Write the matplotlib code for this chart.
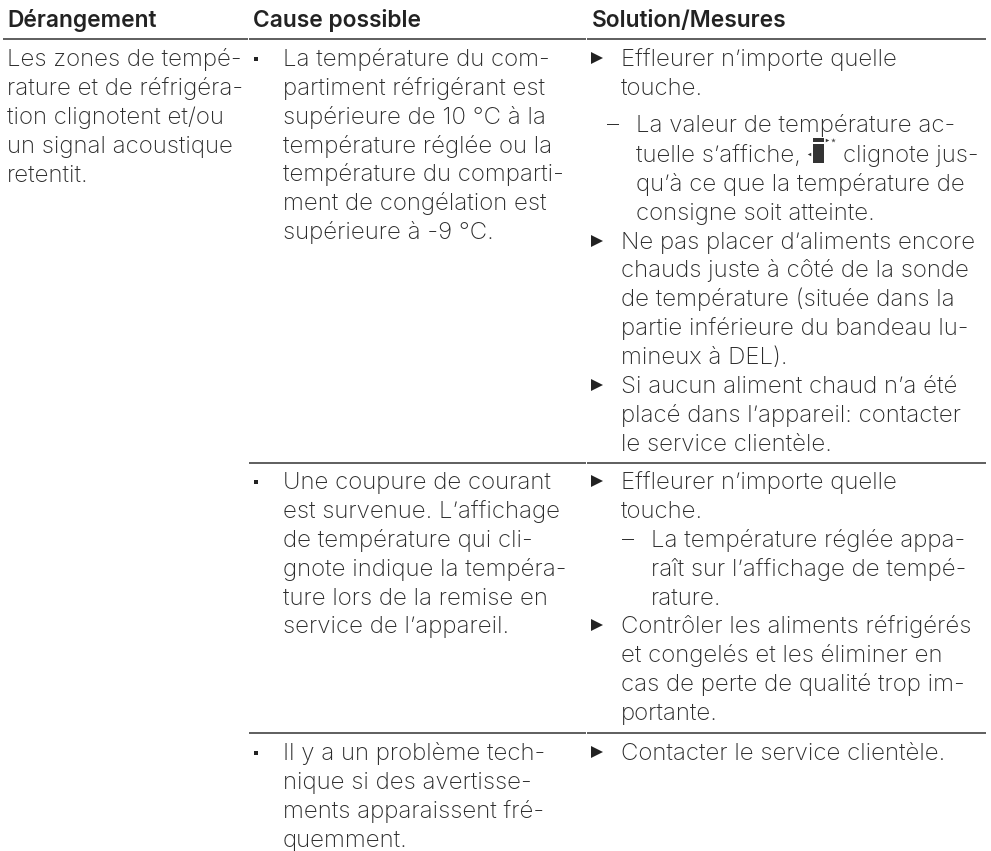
import matplotlib
matplotlib.use("Agg")
import matplotlib.pyplot as plt

headers = ["Dérangement", "Cause possible", "Solution/Mesures"]
symptom = ["Les zones de tempé-", "rature et de réfrigéra-", "tion clignotent et/ou",
           "un signal acoustique", "retentit."]
cause_1 = ["La température du com-", "partiment réfrigérant est", "supérieure de 10 °C à la",
           "température réglée ou la", "température du comparti-", "ment de congélation est",
           "supérieure à -9 °C."]
cause_2 = ["Une coupure de courant", "est survenue. L’affichage", "de température qui cli-",
           "gnote indique la tempéra-", "ture lors de la remise en", "service de l’appareil."]
cause_3 = ["Il y a un problème tech-", "nique si des avertisse-", "ments apparaissent fré-",
           "quemment."]
sol_1a = ["Effleurer n’importe quelle", "touche."]
sol_1b_first = ["La valeur de température ac-"]
sol_1b_icon = ["tuelle s’affiche,", "clignote jus-"]
sol_1b_rest = ["qu’à ce que la température de", "consigne soit atteinte."]
sol_1c = ["Ne pas placer d’aliments encore", "chauds juste à côté de la sonde",
          "de température (située dans la", "partie inférieure du bandeau lu-",
          "mineux à DEL)."]
sol_1d = ["Si aucun aliment chaud n’a été", "placé dans l’appareil: contacter",
          "le service clientèle."]
sol_2a = ["Effleurer n’importe quelle", "touche."]
sol_2b = ["La température réglée appa-", "raît sur l’affichage de tempé-", "rature."]
sol_2c = ["Contrôler les aliments réfrigérés", "et congelés et les éliminer en",
          "cas de perte de qualité trop im-", "portante."]
sol_3a = ["Contacter le service clientèle."]

INK = "#2b2b2b"
FAM = "Inter"
FS = 17.3
FS_HEAD = 16.4
LH = 28.85
fig = plt.figure(figsize=(9.91, 8.51), dpi=100)
ax = fig.add_axes([0, 0, 1, 1])
ax.set_xlim(0, 991); ax.set_ylim(851, 0); ax.axis("off")

def put(x, y, s):
    ax.text(x, y, s, fontsize=FS, color=INK, va="baseline", ha="left", family=FAM, weight="light")

def block(x, y, lines):
    for i, s in enumerate(lines):
        put(x, y + i * LH, s)
    return y + len(lines) * LH

def tri(x, y):
    ax.plot([x], [y - 8], marker=">", ms=8, color="#222222", mew=0)
def sq(x, y):
    ax.plot([x], [y - 7], marker="s", ms=3, color="#222222", mew=0)
def rule(y, spans):
    for x0, x1 in spans:
        ax.plot([x0, x1], [y, y], color="#333333", lw=1.1, solid_capstyle="butt")

for x, h in zip([7, 253, 592], headers):
    ax.text(x, 26.7, h, fontsize=FS_HEAD, color="#222222", va="baseline", weight="semibold", family=FAM)
rule(38.7, [(3, 248), (249, 586), (587, 986)])

block(7, 66, symptom)
sq(256, 66); block(283, 66, cause_1)
y = 66
tri(597, y); y = block(621, y, sol_1a) + 8
put(607, y, "–"); y = block(636, y, sol_1b_first) + 1.5
put(636, y, sol_1b_icon[0]); put(843, y, sol_1b_icon[1]); y += LH
y = block(636, y, sol_1b_rest)
tri(597, y); y = block(621, y, sol_1c)
tri(597, y); y = block(621, y, sol_1d)

y2 = 489
rule(463, [(249, 586), (587, 986)])
sq(256, y2); block(283, y2, cause_2)
y = y2
tri(597, y); y = block(621, y, sol_2a)
put(622, y, "–"); y = block(651, y, sol_2b)
tri(597, y); y = block(621, y, sol_2c)

y3 = 760
rule(733, [(249, 586), (587, 986)])
sq(256, y3); block(283, y3, cause_3)
tri(597, y3); block(621, y3, sol_3a)

# display icon in the running text
ax.add_patch(plt.Rectangle((813, 138), 11, 4, color="#333333", lw=0))
ax.add_patch(plt.Rectangle((813, 144), 11, 19, color="#333333", lw=0))
ax.plot([809], [154], marker="<", ms=2.5, color="#333333", mew=0)
ax.plot([827], [140], marker=">", ms=2.5, color="#333333", mew=0)
ax.plot([833], [140], marker="*", ms=3.5, color="#555555", mew=0)

fig.savefig("out.png", dpi=100)
